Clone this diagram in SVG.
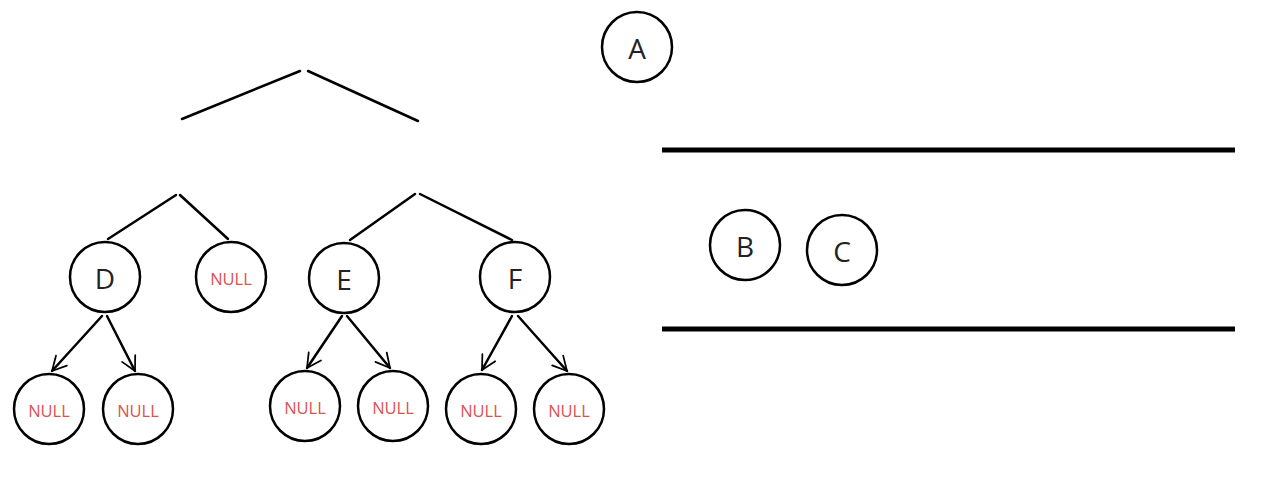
<svg xmlns="http://www.w3.org/2000/svg" width="1283" height="492" viewBox="0 0 1283 492">
<defs>
<style>
.n{fill:#fff;stroke:#000;stroke-width:2.5}
.l{font-family:"Open Sans","Liberation Sans",sans-serif;font-size:28px;fill:#222;text-anchor:middle;dominant-baseline:central}
.nl{font-family:"Open Sans","Liberation Sans",sans-serif;font-size:16.5px;fill:#d9534f;text-anchor:middle;dominant-baseline:central}
.e{fill:none;stroke:#000;stroke-width:2.5;stroke-linecap:round}
.a{fill:none;stroke:#000;stroke-width:2.5;stroke-linecap:round;marker-end:url(#ah)}
.bar{stroke:#000;stroke-width:5}
</style>
<marker id="ah" viewBox="0 0 10 10" refX="9" refY="5" markerWidth="7" markerHeight="7" orient="auto" markerUnits="strokeWidth">
<path d="M1,0.8 L9,5 L1,9.2" fill="none" stroke="#000" stroke-width="1" stroke-linecap="round" stroke-linejoin="round"/>
</marker>
</defs>
<rect width="1283" height="492" fill="#fff"/>
<g id="connectors">
<path class="e" d="M182,119 L300,71"/>
<path class="e" d="M308,71 L418,121"/>
<path class="e" d="M108,239 L176,195"/>
<path class="e" d="M180,195 L228,239"/>
<path class="e" d="M350,240 L415,194"/>
<path class="e" d="M420,194 L512,240"/>
<path class="a" d="M102,316 L52,371"/>
<path class="a" d="M107,316 L135,371"/>
<path class="a" d="M342,316 L307,368"/>
<path class="a" d="M347,316 L390,368"/>
<path class="a" d="M512,316 L482,370"/>
<path class="a" d="M518,316 L567,371"/>
</g>
<g id="bars">
<line class="bar" x1="662" y1="150" x2="1235" y2="150"/>
<line class="bar" x1="662" y1="329" x2="1235" y2="329"/>
</g>
<g id="A"><circle class="n" cx="637" cy="47" r="35"/><text class="l" x="637" y="48">A</text></g>
<g id="D"><circle class="n" cx="105" cy="277" r="35"/><text class="l" x="105" y="278">D</text></g>
<g id="null1"><circle class="n" cx="231" cy="277" r="35"/><text class="nl" x="231" y="278">NULL</text></g>
<g id="E"><circle class="n" cx="344" cy="278" r="35"/><text class="l" x="344" y="279">E</text></g>
<g id="F"><circle class="n" cx="515" cy="277" r="35"/><text class="l" x="515" y="278">F</text></g>
<g id="null2"><circle class="n" cx="49" cy="409" r="35"/><text class="nl" x="49" y="410">NULL</text></g>
<g id="null3"><circle class="n" cx="138" cy="409" r="35"/><text class="nl" x="138" y="410">NULL</text></g>
<g id="null4"><circle class="n" cx="305" cy="406" r="35"/><text class="nl" x="305" y="407">NULL</text></g>
<g id="null5"><circle class="n" cx="393" cy="406" r="35"/><text class="nl" x="393" y="407">NULL</text></g>
<g id="null6"><circle class="n" cx="481" cy="409" r="35"/><text class="nl" x="481" y="410">NULL</text></g>
<g id="null7"><circle class="n" cx="569" cy="409" r="35"/><text class="nl" x="569" y="410">NULL</text></g>
<g id="B"><circle class="n" cx="745" cy="245" r="35"/><text class="l" x="745" y="246">B</text></g>
<g id="C"><circle class="n" cx="842" cy="250" r="35"/><text class="l" x="842" y="251">C</text></g>
</svg>
